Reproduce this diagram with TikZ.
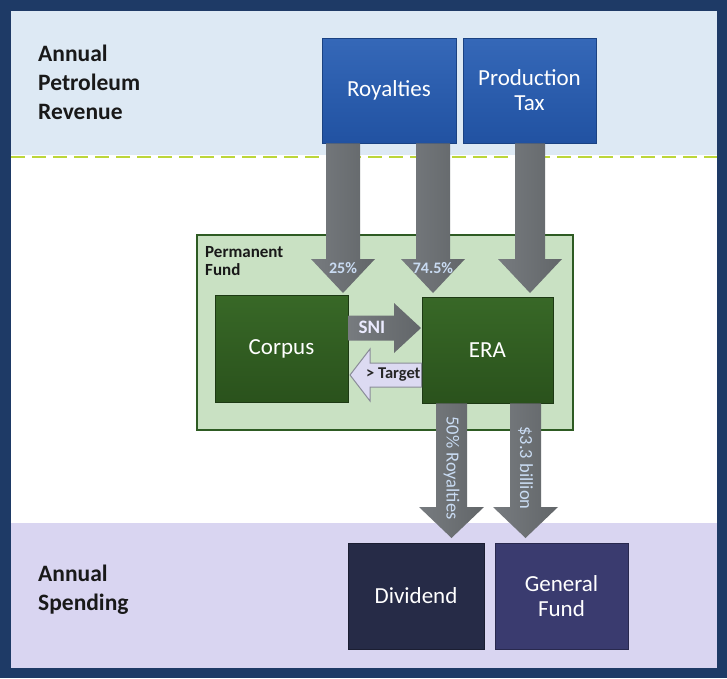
\documentclass[tikz,border=0pt]{standalone}
\usepackage{fontspec}
\setmainfont{Carlito}
\usetikzlibrary{calc}
\definecolor{frame}{HTML}{1E3A66}
\definecolor{topband}{HTML}{DDE9F4}
\definecolor{botband}{HTML}{D9D5F1}
\definecolor{dashc}{HTML}{BCD63A}
\definecolor{blueT}{HTML}{3568B8}
\definecolor{blueB}{HTML}{2152A2}
\definecolor{pffill}{HTML}{C9E1C3}
\definecolor{pfdraw}{HTML}{2E5B23}
\definecolor{greenT}{HTML}{386827}
\definecolor{greenB}{HTML}{2A521C}
\definecolor{divc}{HTML}{262B47}
\definecolor{gfc}{HTML}{3A3B6F}
\definecolor{agL}{HTML}{777B7F}
\definecolor{agR}{HTML}{626669}
\definecolor{lblblue}{HTML}{C9DBF2}
\definecolor{tgtfill}{HTML}{DCDAF2}
\definecolor{tgtdraw}{HTML}{8A8C98}
\newcommand{\vfat}[5]{%
  \path[left color=agL,right color=agR] let \p1=(#1), \p2=(#2) in
    (\x2-#3,\y1) -- (\x2-#3,\y2+#5) -- (\x2-#4,\y2+#5) -- (\p2)
    -- (\x2+#4,\y2+#5) -- (\x2+#3,\y2+#5) -- (\x2+#3,\y1) -- cycle;}
\begin{document}
\begin{tikzpicture}[x=1pt,y=-1pt,
  box/.style={inner sep=0pt, align=center, text=white, font=\fontsize{23}{25}\selectfont},
  bluebox/.style={box, top color=blueT, bottom color=blueB, draw=blueB!80!black, line width=0.6pt},
  greenbox/.style={box, top color=greenT, bottom color=greenB, draw=greenB!70!black, line width=0.6pt},
  title/.style={anchor=north west, align=left, inner sep=0pt, text=black!90, font=\bfseries\fontsize{23.5}{29}\selectfont},
  pctlbl/.style={text=lblblue, font=\bfseries\fontsize{16}{18}\selectfont, inner sep=0pt},
  rotlbl/.style={text=lblblue, rotate=-90, font=\fontsize{18.5}{20}\selectfont, inner sep=0pt}]
\useasboundingbox (0,0) rectangle (727,678);
% background
\fill[frame] (0,0) rectangle (727,678);
\fill[white] (11,11) rectangle (717,668);
\fill[topband] (11,11) rectangle (717,155);
\fill[botband] (11,523) rectangle (717,668);
\draw[dashc, line width=1.5pt, dash pattern=on 14pt off 7pt] (11,157) -- (717,157);
% titles
\node[title] (trev) at (38,45) {Annual\\Petroleum\\Revenue};
\node[title] (tspend) at (38,565) {Annual\\Spending};
% permanent fund
\node[draw=pfdraw, fill=pffill, line width=2.5pt, minimum width=376pt, minimum height=195pt, inner sep=0pt] (pf) at (385,332.5) {};
\node[anchor=north west, align=left, inner sep=0pt, font=\bfseries\fontsize{17}{18}\selectfont, text=black!90] (pflbl) at (205,246) {Permanent\\Fund};
% source boxes
\node[bluebox, minimum width=134pt, minimum height=105pt] (roy) at (389,90.5) {Royalties};
\node[bluebox, minimum width=133pt, minimum height=105pt] (ptax) at (529.5,90.5) {Production\\Tax};
% fund boxes
\node[greenbox, minimum width=133pt, minimum height=107pt] (corpus) at (281.5,348.5) {Corpus};
\node[greenbox, minimum width=131pt, minimum height=106pt] (era) at (487.5,350) {ERA};
% spending boxes
\node[box, fill=divc, draw=divc!70!black, line width=0.6pt, minimum width=136pt, minimum height=106pt] (div) at (416,596) {Dividend};
\node[box, fill=gfc, draw=gfc!70!black, line width=0.6pt, minimum width=133pt, minimum height=106pt] (gf) at (561.5,596) {General\\Fund};
% arrow tips
\coordinate (t1) at (343,293);
\coordinate (t2) at (433,293);
\coordinate (t3) at (530,293);
\coordinate (t4) at (451.5,538);
\coordinate (t5) at (525.5,538);
\vfat{roy.south}{t1}{17pt}{32pt}{34pt}
\vfat{roy.south}{t2}{17pt}{32pt}{34pt}
\vfat{ptax.south}{t3}{15pt}{32pt}{34pt}
\vfat{era.south}{t4}{15.5pt}{32.5pt}{31pt}
\vfat{era.south}{t5}{15.5pt}{32.5pt}{31pt}
% SNI arrow (right)
\coordinate (sniTip) at (421,328);
\path[left color=agL,right color=agR] let \p1=(corpus.east), \p2=(sniTip) in
  (\x1,\y2+12.5pt) -- (\x2-27pt,\y2+12.5pt) -- (\x2-27pt,\y2+25pt) -- (\p2)
  -- (\x2-27pt,\y2-25pt) -- (\x2-27pt,\y2-12.5pt) -- (\x1,\y2-12.5pt) -- cycle;
% Target arrow (left)
\coordinate (tgtTip) at (350,375);
\path[fill=tgtfill, draw=tgtdraw, line width=1pt] let \p1=(era.west), \p2=(tgtTip) in
  (\x1,\y2+12pt) -- (\x2+20pt,\y2+12pt) -- (\x2+20pt,\y2+26pt) -- (\p2)
  -- (\x2+20pt,\y2-26pt) -- (\x2+20pt,\y2-12pt) -- (\x1,\y2-12pt) -- cycle;
% arrow labels
\node[pctlbl] (l1) at (343,268) {25\%};
\node[pctlbl] (l2) at (433,268) {74.5\%};
\node[inner sep=0pt, text=white!92!blue, font=\bfseries\fontsize{19}{21}\selectfont] (lsni) at (372,327) {SNI};
\node[anchor=west, inner sep=0pt, text=black!85, font=\bfseries\fontsize{16.5}{18}\selectfont] (ltgt) at (366,375) {> Target};
\node[rotlbl] (l4) at (451.5,468) {50\% Royalties};
\node[rotlbl] (l5) at (525.5,468) {\$3.3 billion};
\end{tikzpicture}
\end{document}
